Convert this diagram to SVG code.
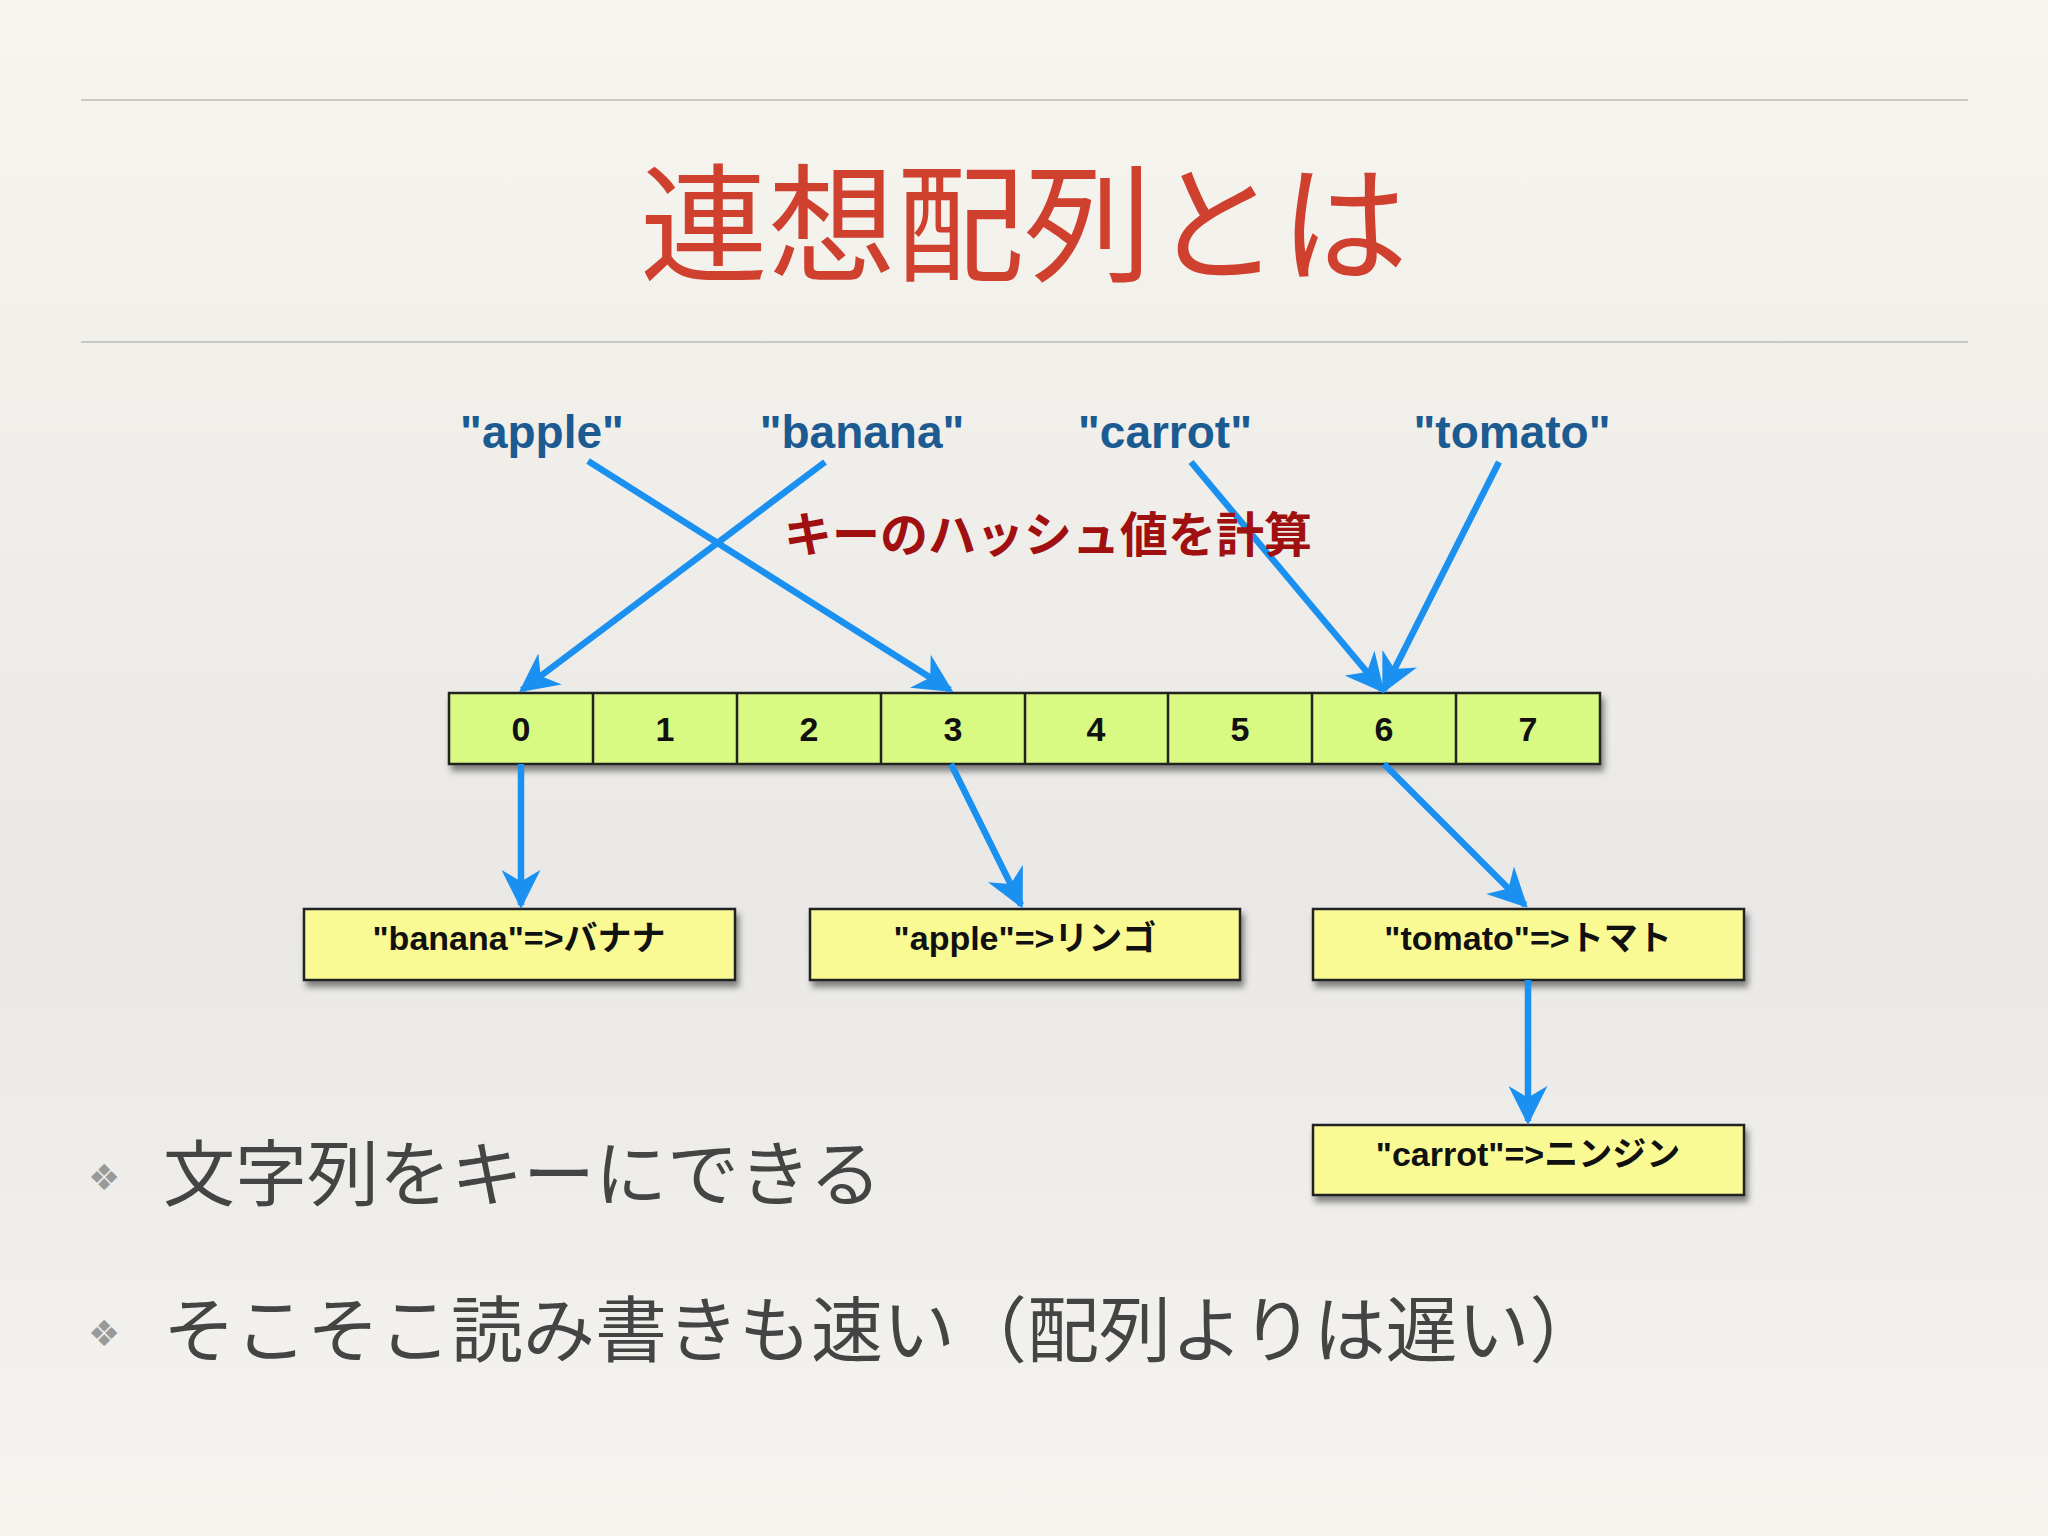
<svg xmlns="http://www.w3.org/2000/svg" width="2048" height="1536" viewBox="0 0 2048 1536">
<defs>
<linearGradient id="bg" x1="0" y1="0" x2="0" y2="1"><stop offset="0" stop-color="#f7f5ee"/><stop offset="0.6" stop-color="#e9e8e6"/><stop offset="1" stop-color="#f5f4ef"/></linearGradient>
<marker id="ah" viewBox="0 0 10 10" refX="9" refY="5" markerWidth="6" markerHeight="6" markerUnits="strokeWidth" orient="auto"><path d="M0,0 L10,5 L0,10 L3,5 z" fill="#1a90f0"/></marker>
<filter id="sh" x="-10%" y="-10%" width="130%" height="150%"><feDropShadow dx="3" dy="6" stdDeviation="3" flood-opacity="0.45"/></filter>
</defs>
<style>
.key{font-family:"Liberation Sans",sans-serif;font-weight:bold;font-size:46px;fill:#1c5a92;text-anchor:middle}
.idx{font-family:"Liberation Sans",sans-serif;font-weight:bold;font-size:34px;fill:#111;text-anchor:middle}
.box{font-family:"Liberation Sans","Noto Sans CJK JP",sans-serif;font-weight:bold;font-size:34px;fill:#111;text-anchor:middle}
.cell{fill:#d8f982;stroke:#222;stroke-width:2.5}
.val{fill:#fafa94;stroke:#222;stroke-width:2.5;filter:url(#sh)}
.arr{stroke:#1a90f0;stroke-width:6.5;fill:none;marker-end:url(#ah)}
.bul{font-family:"Noto Sans CJK JP",sans-serif;font-size:72px;fill:#444}
</style>
<rect width="2048" height="1536" fill="url(#bg)"/>
<line x1="81" y1="100" x2="1968" y2="100" stroke="#c8c8c4" stroke-width="2"/>
<line x1="81" y1="342" x2="1968" y2="342" stroke="#c8c8c4" stroke-width="2"/>
<text x="1024" y="272" font-family="Noto Sans CJK JP,sans-serif" font-size="128" fill="#d0402e" text-anchor="middle">連想配列とは</text>
<g id="keys">
<text class="key" x="542" y="448">"apple"</text>
<text class="key" x="862" y="448">"banana"</text>
<text class="key" x="1165" y="448">"carrot"</text>
<text class="key" x="1512" y="448">"tomato"</text>
</g>
<g id="array" filter="url(#sh)">
<rect class="cell" x="449" y="693" width="1151" height="71"/>
</g>
<g id="cells">
<line x1="593" y1="693" x2="593" y2="764" stroke="#222" stroke-width="2.5"/>
<line x1="737" y1="693" x2="737" y2="764" stroke="#222" stroke-width="2.5"/>
<line x1="881" y1="693" x2="881" y2="764" stroke="#222" stroke-width="2.5"/>
<line x1="1025" y1="693" x2="1025" y2="764" stroke="#222" stroke-width="2.5"/>
<line x1="1168" y1="693" x2="1168" y2="764" stroke="#222" stroke-width="2.5"/>
<line x1="1312" y1="693" x2="1312" y2="764" stroke="#222" stroke-width="2.5"/>
<line x1="1456" y1="693" x2="1456" y2="764" stroke="#222" stroke-width="2.5"/>
<text class="idx" x="521" y="741">0</text><text class="idx" x="665" y="741">1</text><text class="idx" x="809" y="741">2</text><text class="idx" x="953" y="741">3</text><text class="idx" x="1096" y="741">4</text><text class="idx" x="1240" y="741">5</text><text class="idx" x="1384" y="741">6</text><text class="idx" x="1528" y="741">7</text>
</g>
<g id="v-banana"><rect class="val" x="304" y="909" width="431" height="71"/><text class="box" x="519" y="950">"banana"=&gt;バナナ</text></g>
<g id="v-apple"><rect class="val" x="810" y="909" width="430" height="71"/><text class="box" x="1025" y="950">"apple"=&gt;リンゴ</text></g>
<g id="v-tomato"><rect class="val" x="1313" y="909" width="431" height="71"/><text class="box" x="1528" y="950">"tomato"=&gt;トマト</text></g>
<g id="v-carrot"><rect class="val" x="1313" y="1125" width="431" height="70"/><text class="box" x="1528" y="1166">"carrot"=&gt;ニンジン</text></g>
<g id="connectors">
<line class="arr" x1="588" y1="461" x2="950" y2="690"/>
<line class="arr" x1="825" y1="462" x2="522" y2="690"/>
<line class="arr" x1="1191" y1="462" x2="1382" y2="690"/>
<line class="arr" x1="1499" y1="462" x2="1384" y2="690"/>
<line class="arr" x1="521" y1="764" x2="521" y2="905"/>
<line class="arr" x1="951" y1="764" x2="1021" y2="905"/>
<line class="arr" x1="1384" y1="764" x2="1525" y2="905"/>
<line class="arr" x1="1528" y1="980" x2="1528" y2="1121"/>
</g>
<text x="784" y="552" font-family="Noto Sans CJK JP,sans-serif" font-weight="bold" font-size="48" fill="#a01010">キーのハッシュ値を計算</text>
<text x="88" y="1190" font-family="DejaVu Sans,sans-serif" font-size="36" fill="#999">❖</text>
<text class="bul" x="163" y="1200">文字列をキーにできる</text>
<text x="88" y="1346" font-family="DejaVu Sans,sans-serif" font-size="36" fill="#999">❖</text>
<text class="bul" x="163" y="1356">そこそこ読み書きも速い（配列よりは遅い）</text>
</svg>
